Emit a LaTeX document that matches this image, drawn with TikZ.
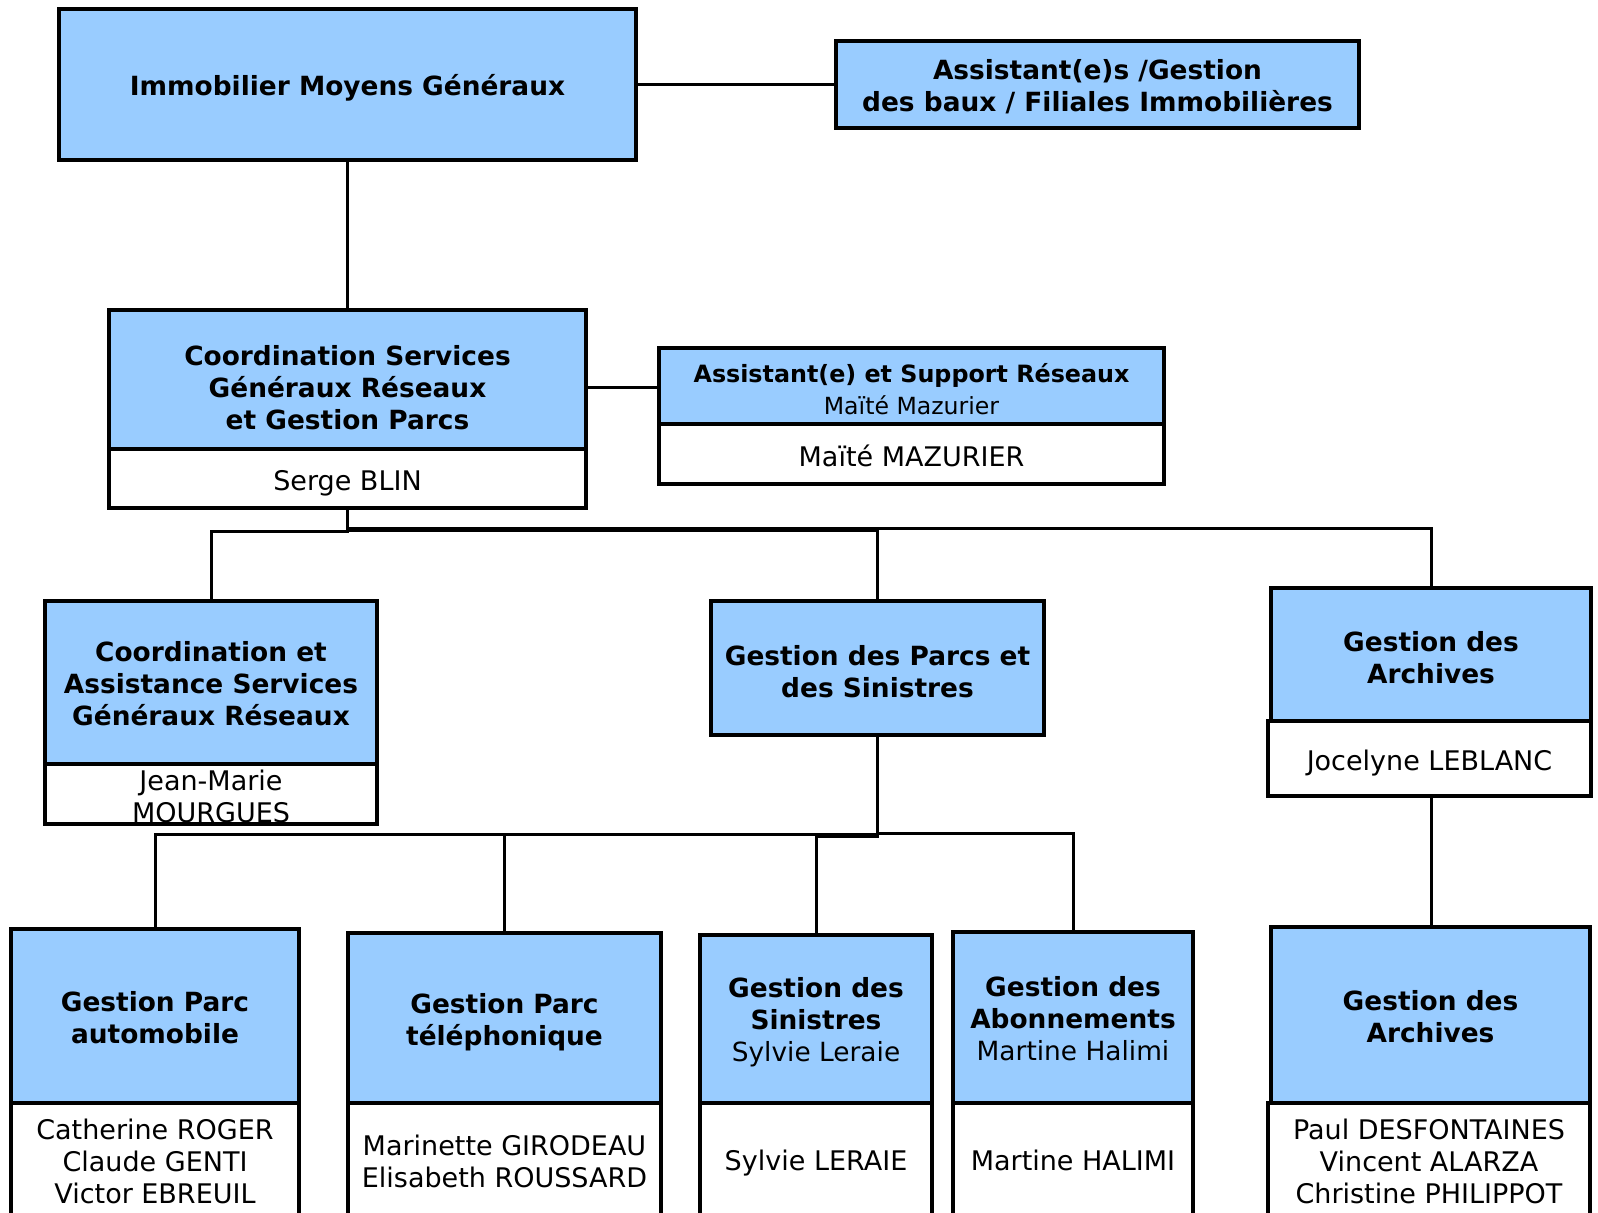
\documentclass[tikz,border=0pt]{standalone}
\usepackage{fontspec}
\setmainfont{DejaVu Sans}
\definecolor{hdr}{RGB}{153,204,255}
\newcommand\obox[8]{%
  \node[#6, minimum width={(#4-#2)*0.5pt}, minimum height={(#5-#3)*0.5pt}] (#1) at ({(#2+#4)/2},{(#3+#5)/2}) {};
  \node[#6 txt] (#1t) at ({(#2+#4)/2},{(#3+#5)/2+#7}) {#8};}
\begin{document}
\begin{tikzpicture}[x=0.5pt,y=-0.5pt,
  hbox/.style={draw=black, line width=2pt, fill=hdr, inner sep=0pt},
  nbox/.style={draw=black, line width=2pt, fill=white, inner sep=0pt},
  hbox txt/.style={inner sep=0pt, align=center, font=\fontsize{13.2}{16}\selectfont\bfseries},
  nbox txt/.style={inner sep=0pt, align=center, font=\fontsize{13.5}{16}\selectfont},
  conn/.style={draw=black, line width=1.5pt}]
\clip (0,0) rectangle (1598,1212);
\fill[white] (0,0) rectangle (1598,1212);
% connectors (drawn first)
\draw[conn] (636,84.5) -- (836,84.5);
\draw[conn] (347.5,160) -- (347.5,310);
\draw[conn] (586,387) -- (659,387);
\draw[conn] (347.5,508) |- (211,531) -- (211,601);
\draw[conn] (347.5,508) |- (877.5,530) -- (877.5,601);
\draw[conn] (347.5,508) |- (1431,528) -- (1431,588);
\draw[conn] (877.5,735) |- (155,834) -- (155,929);
\draw[conn] (877.5,735) |- (504.5,834) -- (504.5,933);
\draw[conn] (877.5,735) |- (816,836) -- (816,935);
\draw[conn] (877.5,735) |- (1073,833) -- (1073,932);
\draw[conn] (1431,796) -- (1431,927);
% boxes
\obox{b1}{59}{9}{636}{160}{hbox}{3}{Immobilier Moyens Généraux}
\obox{b2}{836}{41}{1359}{128}{hbox}{2}{Assistant(e)s /Gestion\\des baux / Filiales Immobilières}
\obox{b3}{109}{310}{586}{449}{hbox}{8}{Coordination Services\\Généraux Réseaux\\et Gestion Parcs}
\obox{b3n}{109}{449}{586}{508}{nbox}{5}{Serge BLIN}
\obox{b4}{659}{348}{1164}{424}{hbox}{3.5}{{\fontsize{11.9}{14.5}\selectfont Assistant(e) et Support Réseaux}\\{\fontsize{11.8}{14.5}\selectfont\mdseries Maïté Mazurier}}
\obox{b4n}{659}{424}{1164}{484}{nbox}{2}{Maïté MAZURIER}
\obox{b5}{45}{601}{377}{764}{hbox}{1}{Coordination et\\Assistance Services\\Généraux Réseaux}
\obox{b5n}{45}{764}{377}{824}{nbox}{2}{Jean-Marie\\MOURGUES}
\obox{b6}{711}{601}{1044}{735}{hbox}{3.5}{Gestion des Parcs et\\des Sinistres}
\obox{b7}{1271}{588}{1591}{721}{hbox}{3}{Gestion des\\Archives}
\obox{b7n}{1268}{721}{1591}{796}{nbox}{5}{Jocelyne LEBLANC}
\obox{b8}{11}{929}{299}{1103}{hbox}{2}{Gestion Parc\\automobile}
\obox{b8n}{11}{1103}{299}{1220}{nbox}{0}{Catherine ROGER\\Claude GENTI\\Victor EBREUIL}
\obox{b9}{348}{933}{661}{1103}{hbox}{4}{Gestion Parc\\téléphonique}
\obox{b9n}{348}{1103}{661}{1220}{nbox}{0}{Marinette GIRODEAU\\Elisabeth ROUSSARD}
\obox{b10}{700}{935}{932}{1103}{hbox}{3}{Gestion des\\Sinistres\\\mdseries Sylvie Leraie}
\obox{b10n}{700}{1103}{932}{1220}{nbox}{2}{Sylvie LERAIE}
\obox{b11}{953}{932}{1193}{1103}{hbox}{1}{Gestion des\\Abonnements\\\mdseries Martine Halimi}
\obox{b11n}{953}{1103}{1193}{1220}{nbox}{-1}{Martine HALIMI}
\obox{b12}{1271}{927}{1590}{1103}{hbox}{2}{Gestion des\\Archives}
\obox{b12n}{1268}{1103}{1590}{1220}{nbox}{0}{Paul DESFONTAINES\\Vincent ALARZA\\Christine PHILIPPOT}
\end{tikzpicture}
\end{document}
